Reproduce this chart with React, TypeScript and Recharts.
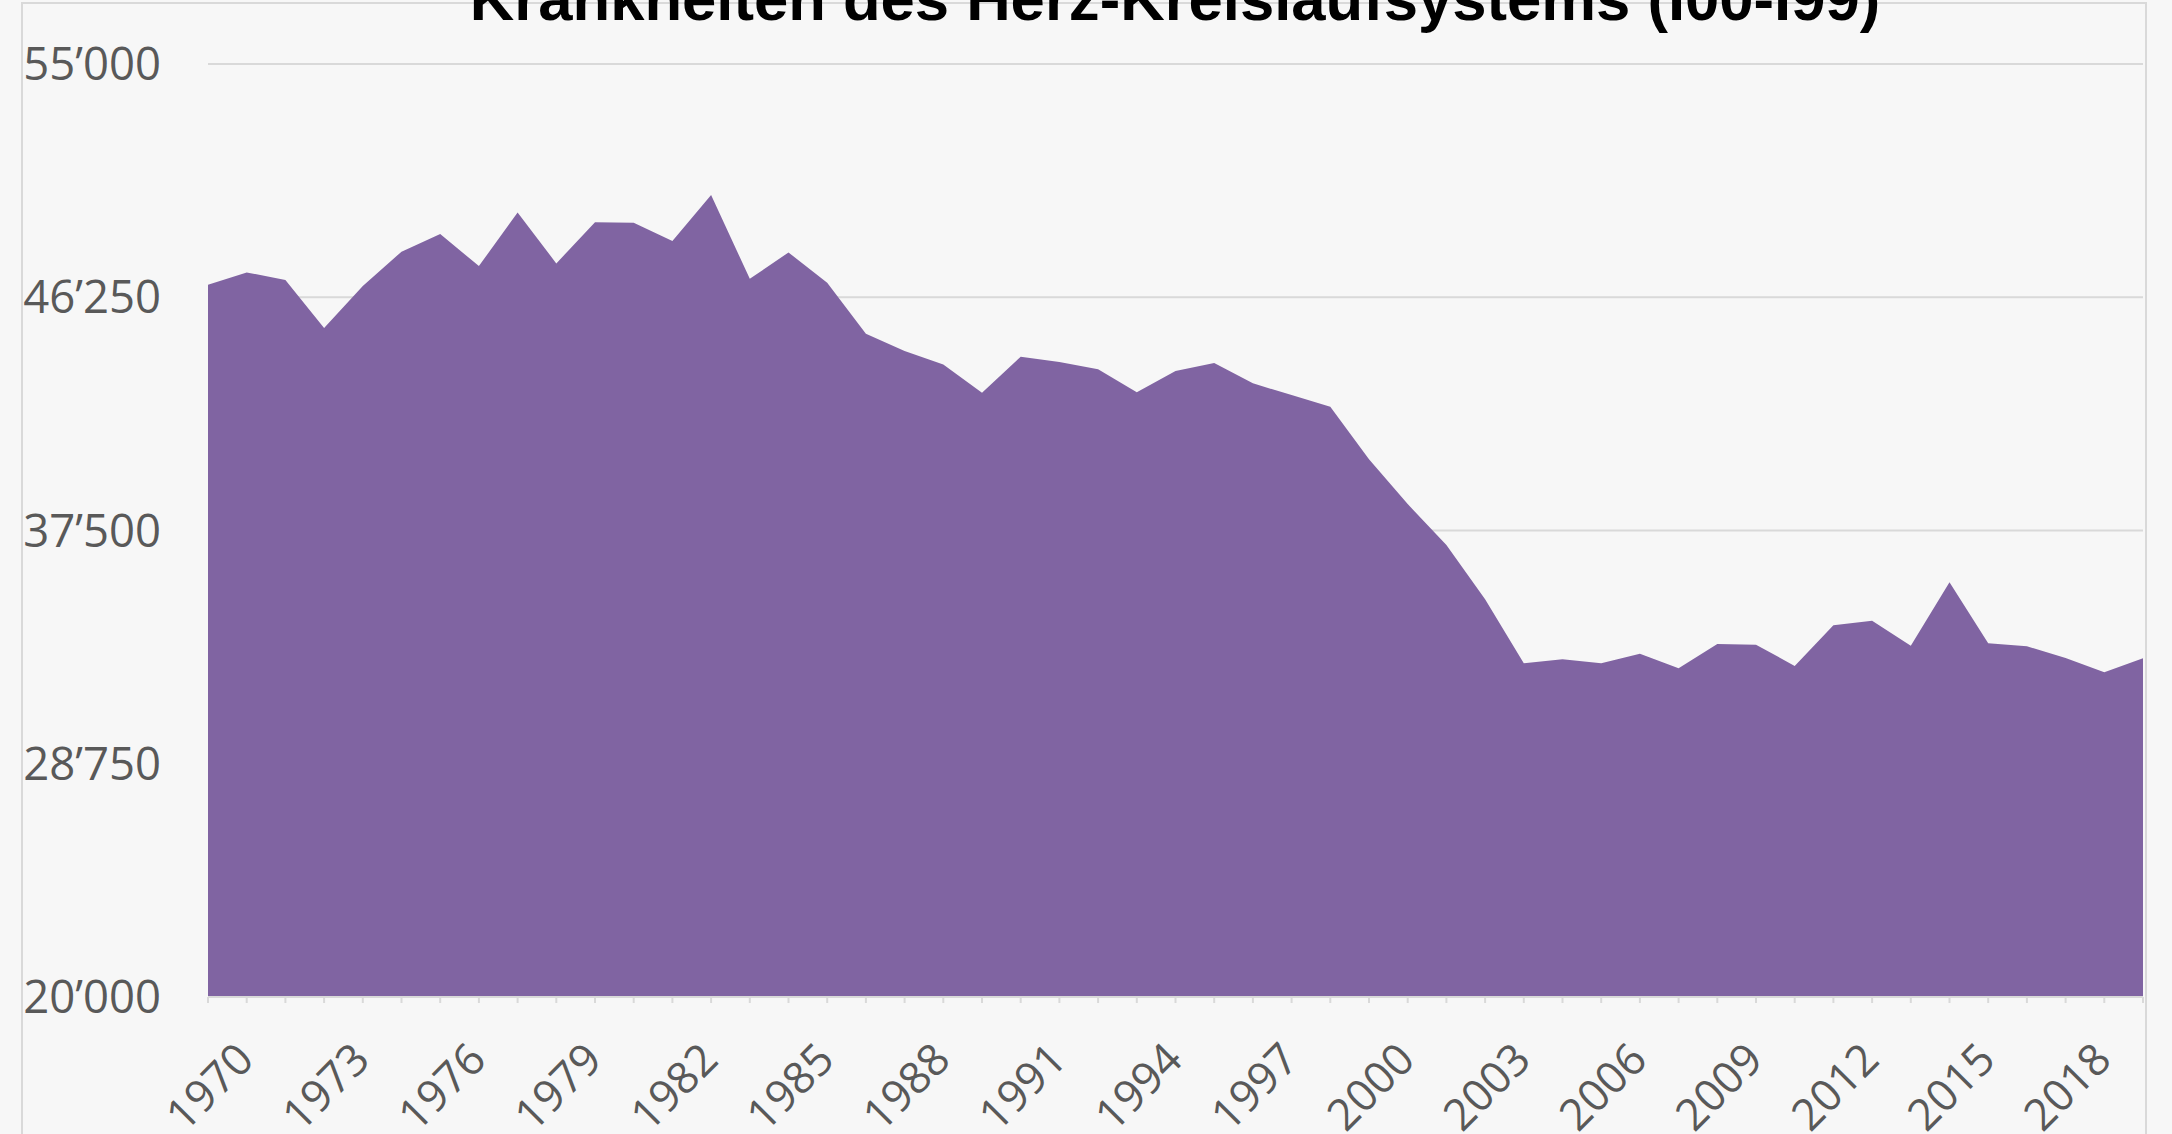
import React from "react";
import {
  AreaChart,
  Area,
  XAxis,
  YAxis,
  CartesianGrid,
} from "recharts";

const YEARS = [
  "1970", "1971", "1972", "1973", "1974", "1975", "1976", "1977", "1978", "1979",
  "1980", "1981", "1982", "1983", "1984", "1985", "1986", "1987", "1988", "1989",
  "1990", "1991", "1992", "1993", "1994", "1995", "1996", "1997", "1998", "1999",
  "2000", "2001", "2002", "2003", "2004", "2005", "2006", "2007", "2008", "2009",
  "2010", "2011", "2012", "2013", "2014", "2015", "2016", "2017", "2018", "2019",
  "2020",
];

// Todesfälle pro Jahr
const DEATHS = [
  46720, 47180, 46900, 45100, 46670, 47960, 48620, 47420, 49430, 47520,
  49060, 49045, 48360, 50090, 46940, 47930, 46790, 44880, 44230, 43730,
  42670, 44020, 43820, 43545, 42690, 43480, 43780, 43020, 42580, 42140,
  40170, 38490, 36955, 34920, 32520, 32670, 32520, 32880, 32330, 33240,
  33215, 32420, 33950, 34115, 33180, 35555, 33270, 33155, 32715, 32180,
  32705,
];

const Y_TICKS = [20000, 28750, 37500, 46250, 55000];

const TITLE = "Krankheiten des Herz-Kreislaufsystems (I00-I99)";

const data = YEARS.map((year, i) => ({ year, value: DEATHS[i] }));

const W = 2172;
const H = 1134;
const LABEL = "#595959";
const GRID = "#d9d9d9";
const FONT = "'Open Sans', sans-serif";

const fmt = (v: number) =>
  String(v).replace(/\B(?=(\d{3})+(?!\d))/g, "\u2019");

const YearTick = (props: any) => {
  const { x, y, payload } = props;
  if ((Number(payload.value) - 1970) % 3 !== 0) return <g />;
  return (
    <text
      transform={`translate(${x + 48},${y + 57}) rotate(-45)`}
      textAnchor="end"
      fontFamily={FONT}
      fontSize={44}
      fill={LABEL}
    >
      {payload.value}
    </text>
  );
};

export default function App() {
  return (
    <div
      style={{
        position: "absolute",
        left: 0,
        top: 0,
        width: W,
        height: H,
        background: "#f7f7f7",
        overflow: "hidden",
      }}
    >
      <div
        style={{
          position: "absolute",
          left: 21,
          top: 2,
          width: 2122,
          height: 1300,
          border: `2px solid ${GRID}`,
        }}
      />
      <div style={{ position: "absolute", left: 0, top: 0 }}>
        <AreaChart
          width={W}
          height={H}
          data={data}
          margin={{ top: 64, right: 29, bottom: 0, left: 0 }}
        >
          <CartesianGrid vertical={false} stroke={GRID} strokeWidth={2} />
          <XAxis
            dataKey="year"
            interval={0}
            height={137}
            axisLine={{ stroke: GRID, strokeWidth: 2 }}
            tickLine={{ stroke: GRID, strokeWidth: 2 }}
            tickSize={6}
            tickMargin={2}
            tick={<YearTick />}
          />
          <YAxis
            width={208}
            domain={[20000, 55000]}
            ticks={Y_TICKS}
            allowDataOverflow
            axisLine={false}
            tickLine={false}
            tickSize={0}
            tickMargin={47}
            tickFormatter={fmt}
            tick={{ fontFamily: FONT, fontSize: 45.5, fill: LABEL }}
          />
          <Area
            type="linear"
            dataKey="value"
            baseValue={20000}
            fill="#8064a2"
            fillOpacity={1}
            stroke="none"
            isAnimationActive={false}
          />
        </AreaChart>
      </div>
      <svg
        width={W}
        height={H}
        style={{ position: "absolute", left: 0, top: 0, pointerEvents: "none" }}
      >
        <text
          x={1175}
          y={20}
          textAnchor="middle"
          fontFamily="'Liberation Sans', Arial, sans-serif"
          fontWeight="bold"
          fontSize={61.6}
          fill="#000"
        >
          {TITLE}
        </text>
      </svg>
    </div>
  );
}
